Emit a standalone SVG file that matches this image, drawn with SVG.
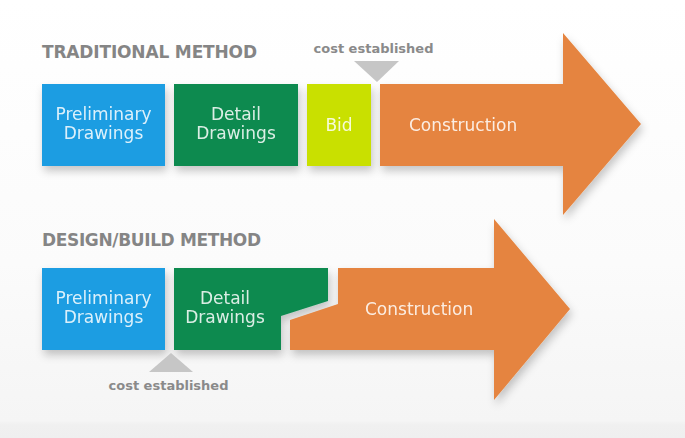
<svg xmlns="http://www.w3.org/2000/svg" width="685" height="438" viewBox="0 0 685 438">
  <defs>
    <linearGradient id="bg" x1="0" y1="0" x2="0" y2="1">
      <stop offset="0" stop-color="#ffffff"/>
      <stop offset="0.6" stop-color="#fbfbfb"/>
      <stop offset="0.96" stop-color="#f5f5f5"/>
      <stop offset="0.97" stop-color="#f0f0f0"/>
      <stop offset="1" stop-color="#efefef"/>
    </linearGradient>
    <filter id="sh" x="-10%" y="-10%" width="130%" height="140%">
      <feDropShadow dx="2" dy="5" stdDeviation="4" flood-color="#000" flood-opacity="0.22"/>
    </filter>
  </defs>
  <style>
    .title { font-family: "DejaVu Sans", Verdana, sans-serif; font-weight: bold; font-size: 17px; fill: #858585; }
    .note { font-family: "DejaVu Sans", Verdana, sans-serif; font-weight: bold; font-size: 13px; fill: #8a8a8a; }
    .lbl { font-family: "DejaVu Sans", Verdana, sans-serif; font-size: 17px; fill: #ffffff; fill-opacity: 0.85; text-anchor: middle; }
    .lbl-start { font-family: "DejaVu Sans", Verdana, sans-serif; font-size: 17px; fill: #ffffff; fill-opacity: 0.85; }
    .blue { fill: #1a9de2; }
    .green { fill: #0e8a50; }
    .lime { fill: #c9e000; }
    .orange { fill: #e5843f; }
    .tri { fill: #c6c6c6; }
    .box { filter: url(#sh); }
  </style>

  <rect x="0" y="0" width="685" height="438" fill="url(#bg)"/>

  <!-- Traditional method -->
  <text class="title" x="42" y="58" textLength="215" lengthAdjust="spacing">TRADITIONAL METHOD</text>

  <g id="trad-cost">
    <text class="note" x="373.5" y="53" text-anchor="middle">cost established</text>
    <polygon class="tri" points="354,61 399,61 377,82"/>
  </g>

  <g id="trad-prelim" class="box">
    <rect class="blue" x="42" y="84" width="123" height="82"/>
    <text class="lbl" x="103.5" y="120">Preliminary</text>
    <text class="lbl" x="103.5" y="139">Drawings</text>
  </g>

  <g id="trad-detail" class="box">
    <rect class="green" x="174" y="84" width="124" height="82"/>
    <text class="lbl" x="236" y="120">Detail</text>
    <text class="lbl" x="236" y="139">Drawings</text>
  </g>

  <g id="trad-bid" class="box">
    <rect class="lime" x="307" y="84" width="64" height="82"/>
    <text class="lbl" x="339" y="131">Bid</text>
  </g>

  <g id="trad-construction" class="box">
    <polygon class="orange" points="380,84 563,84 563,33 641,124 563,215 563,166 380,166"/>
    <text class="lbl-start" x="409" y="131">Construction</text>
  </g>

  <!-- Design/Build method -->
  <text class="title" x="42" y="246" textLength="219" lengthAdjust="spacing">DESIGN/BUILD METHOD</text>

  <g id="db-prelim" class="box">
    <rect class="blue" x="42" y="268" width="123" height="82"/>
    <text class="lbl" x="103.5" y="304">Preliminary</text>
    <text class="lbl" x="103.5" y="323">Drawings</text>
  </g>

  <g id="db-detail" class="box">
    <polygon class="green" points="174,268 328,268 328,301 281,316 281,350 174,350"/>
    <text class="lbl" x="225" y="304">Detail</text>
    <text class="lbl" x="225" y="323">Drawings</text>
  </g>

  <g id="db-construction" class="box">
    <polygon class="orange" points="338,268 494,268 494,219 570,309 494,400 494,350 290,350 290,320 338,304"/>
    <text class="lbl-start" x="365" y="315">Construction</text>
  </g>

  <g id="db-cost">
    <polygon class="tri" points="149,372 193,372 171,353"/>
    <text class="note" x="168.5" y="390" text-anchor="middle">cost established</text>
  </g>
</svg>
